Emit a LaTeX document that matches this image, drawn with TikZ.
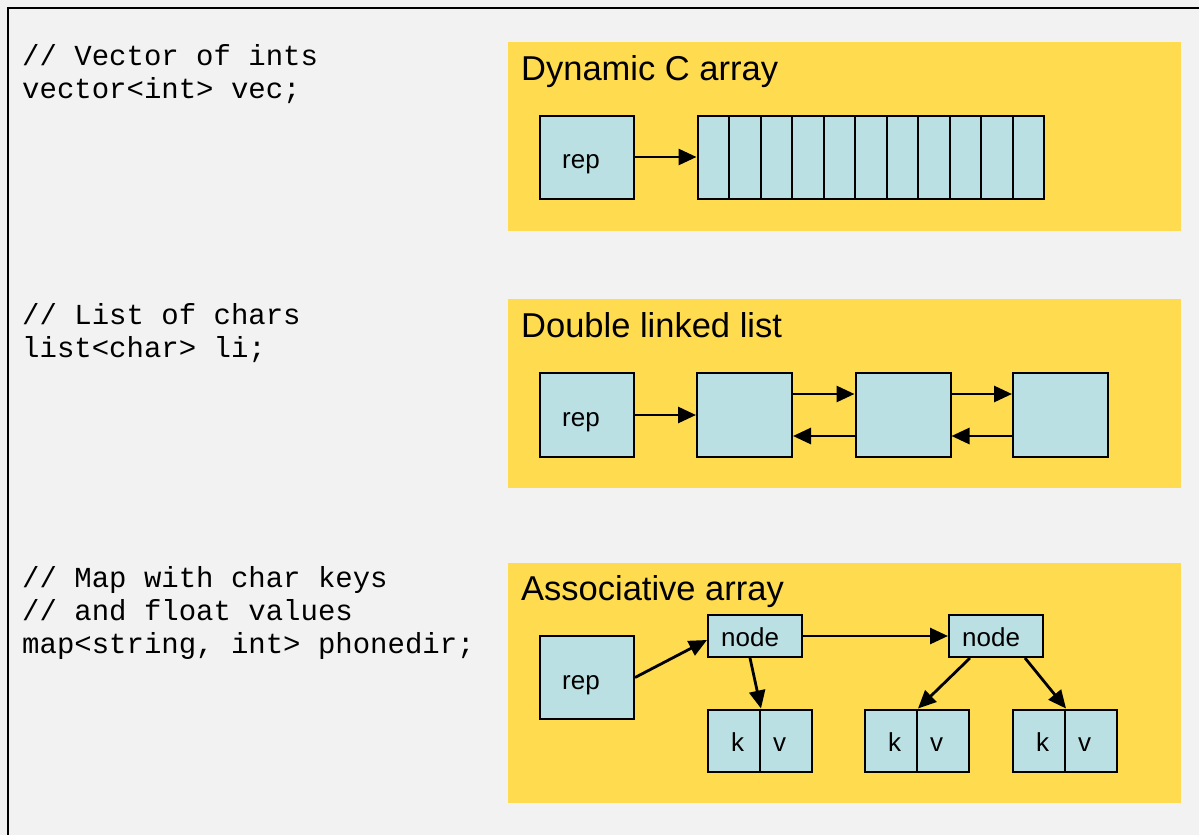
\documentclass[tikz,border=0pt]{standalone}
\usepackage{fontspec}
\setmainfont{Liberation Sans}
\setmonofont{Liberation Mono}
\usetikzlibrary{arrows.meta}
\definecolor{bgc}{HTML}{F2F2F2}
\definecolor{panelc}{HTML}{FFDB4F}
\definecolor{cellc}{HTML}{BBE0E3}
\begin{document}
\begin{tikzpicture}[x=1pt,y=-1pt,
  panelbox/.style={fill=panelc, inner sep=0pt, anchor=north west, minimum width=673pt},
  cellbox/.style={draw=black, line width=2pt, fill=cellc, inner sep=0pt},
  repbox/.style={cellbox, minimum width=94pt, minimum height=83pt},
  arrcell/.style={cellbox, minimum width=31.5pt, minimum height=83pt},
  lbox/.style={cellbox, minimum width=95pt, minimum height=84pt},
  tnode/.style={cellbox, minimum width=94pt, minimum height=42pt},
  kvbox/.style={cellbox, minimum width=52pt, minimum height=62pt},
  boxtext/.style={anchor=base west, inner sep=0pt, font=\fontsize{26}{30}\selectfont},
  arr/.style={line width=2.8pt, -{Triangle[length=18pt,width=16pt]}},
  titletext/.style={anchor=base west, inner sep=0pt, font=\fontsize{34.5}{40}\selectfont},
  codetext/.style={anchor=base west, inner sep=0pt, font=\ttfamily\fontsize{29}{33}\selectfont}
]
\fill[bgc] (0,0) rectangle (1199,835);
\useasboundingbox (0,0) rectangle (1199,835);
\draw[line width=2.5pt] (8,835) -- (8,8) -- (1199,8);

% code
\node[codetext] (c1a) at (22,65) {// Vector of ints};
\node[codetext] (c1b) at (22,98) {vector<int> vec;};
\node[codetext] (c2a) at (22,324) {// List of chars};
\node[codetext] (c2b) at (22,357) {list<char> li;};
\node[codetext] (c3a) at (22,587) {// Map with char keys};
\node[codetext] (c3b) at (22,620) {// and float values};
\node[codetext] (c3c) at (22,653) {map<string, int> phonedir;};

% panels
\node[panelbox, minimum height=189pt] (p1) at (508,42) {};
\node[panelbox, minimum height=189pt] (p2) at (508,299) {};
\node[panelbox, minimum height=240pt] (p3) at (508,563) {};
\node[titletext] (t1) at (521,80) {Dynamic C array};
\node[titletext] (t2) at (521,337) {Double linked list};
\node[titletext] (t3) at (521,600) {Associative array};

% vector
\node[repbox] (rep1) at (587,157) {};
\node[boxtext] (rep1t) at (562,168) {rep};
\foreach \i in {1,...,11} {
  \node[arrcell] (a\i) at ({697.5+31.5*(\i-0.5)},157) {};
}
\draw[arr] (rep1.east) -- (a1.west);

% list
\node[repbox, minimum height=84pt] (rep2) at (587,415) {};
\node[boxtext] (rep2t) at (562,426) {rep};
\node[lbox] (l1) at (744.5,415) {};
\node[lbox] (l2) at (903,415) {};
\node[lbox] (l3) at (1060.5,415) {};
\draw[arr] (rep2.east) -- (l1.west);
\draw[arr] ([yshift=21pt]l1.east) -- ([yshift=21pt]l2.west);
\draw[arr] ([yshift=21pt]l2.east) -- ([yshift=21pt]l3.west);
\draw[arr] ([yshift=-21pt]l2.west) -- ([yshift=-21pt]l1.east);
\draw[arr] ([yshift=-21pt]l3.west) -- ([yshift=-21pt]l2.east);

% map
\node[repbox] (rep3) at (587,677.5) {};
\node[boxtext] (rep3t) at (562,689) {rep};
\node[tnode] (n1) at (755,636) {};
\node[boxtext] (n1t) at (721,646) {node};
\node[tnode] (n2) at (996,636) {};
\node[boxtext] (n2t) at (962,646) {node};
\node[kvbox] (k1) at (734,740.5) {};
\node[kvbox] (v1) at (786,740.5) {};
\node[kvbox] (k2) at (891,740.5) {};
\node[kvbox] (v2) at (943,740.5) {};
\node[kvbox] (k3) at (1039,740.5) {};
\node[kvbox] (v3) at (1091,740.5) {};
\node[boxtext] (k1t) at (731,751) {k};
\node[boxtext] (v1t) at (773,751) {v};
\node[boxtext] (k2t) at (888,751) {k};
\node[boxtext] (v2t) at (930,751) {v};
\node[boxtext] (k3t) at (1036,751) {k};
\node[boxtext] (v3t) at (1078,751) {v};
\draw[arr] (rep3.east) -- ([yshift=-4pt]n1.west);
\draw[arr] (n1.east) -- (n2.west);
\draw[arr] ([xshift=-5pt]n1.south) -- (k1.north east);
\draw[arr] ([xshift=-26pt]n2.south) -- (k2.north east);
\draw[arr] ([xshift=29pt]n2.south) -- (k3.north east);
\end{tikzpicture}
\end{document}
